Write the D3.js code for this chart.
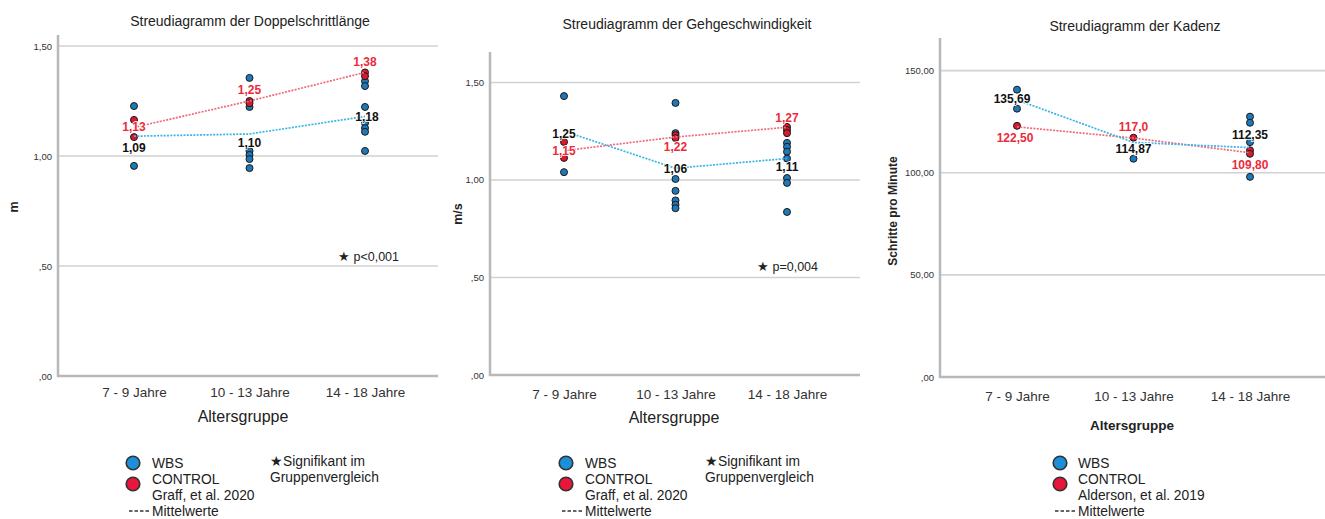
<!DOCTYPE html>
<html><head><meta charset="utf-8">
<script src="https://cdn.jsdelivr.net/npm/d3@7"></script>
<style>
body{margin:0;background:#fff;}
text{font-family:"Liberation Sans",Arial,sans-serif;}
</style></head>
<body><svg id="c" width="1325" height="519"></svg>
<script>
// ---------- DATA ----------
const categories = ["7 - 9 Jahre", "10 - 13 Jahre", "14 - 18 Jahre"];

// Panel 1: Doppelschrittlänge (m)
const strideWBS  = [[1.227, 0.955], [1.355, 1.223, 1.023, 1.005, 0.986, 0.945], [1.34, 1.318, 1.223, 1.15, 1.127, 1.11, 1.023]];
const strideCTRL = [[1.164, 1.086], [1.25, 1.24], [1.38, 1.363]];
const strideMeanWBS  = [1.09, 1.10, 1.18];
const strideMeanCTRL = [1.13, 1.25, 1.38];
const strideTicks = [0, 0.5, 1.0, 1.5];
const strideTickLabels = [",00", ",50", "1,00", "1,50"];
const strideMeanLabelsWBS  = ["1,09", "1,10", "1,18"];
const strideMeanLabelsCTRL = ["1,13", "1,25", "1,38"];

// Panel 2: Gehgeschwindigkeit (m/s)
const speedWBS  = [[1.43, 1.04], [1.395, 1.24, 1.005, 0.944, 0.895, 0.873, 0.855], [1.19, 1.17, 1.145, 1.11, 1.01, 0.985, 0.836]];
const speedCTRL = [[1.195, 1.113], [1.23, 1.215], [1.272, 1.256, 1.24]];
const speedMeanWBS  = [1.25, 1.06, 1.11];
const speedMeanCTRL = [1.15, 1.22, 1.27];
const speedTicks = [0, 0.5, 1.0, 1.5];
const speedTickLabels = [",00", ",50", "1,00", "1,50"];
const speedMeanLabelsWBS  = ["1,25", "1,06", "1,11"];
const speedMeanLabelsCTRL = ["1,15", "1,22", "1,27"];

// Panel 3: Kadenz (Schritte pro Minute)
const cadenceWBS  = [[140.7, 131.4], [106.9], [127.5, 124.5, 115.0, 98.0]];
const cadenceCTRL = [[123.0], [117.2], [111.0, 109.3]];
const cadenceMeanWBS  = [135.69, 114.87, 112.35];
const cadenceMeanCTRL = [122.50, 117.0, 109.80];
const cadenceTicks = [0, 50, 100, 150];
const cadenceTickLabels = [",00", "50,00", "100,00", "150,00"];
const cadenceMeanLabelsWBS  = ["135,69", "114,87", "112,35"];
const cadenceMeanLabelsCTRL = ["122,50", "117,0", "109,80"];

const titles = ["Streudiagramm der Doppelschrittlänge", "Streudiagramm der Gehgeschwindigkeit", "Streudiagramm der Kadenz"];
const yTitles = ["m", "m/s", "Schritte pro Minute"];
const xTitle = "Altersgruppe";
const sigNotes = ["★ p<0,001", "★ p=0,004", null];
const legendSources = ["Graff, et al. 2020", "Graff, et al. 2020", "Alderson, et al. 2019"];

// ---------- LAYOUT / STYLE ----------
const COL_BLUE = "#1f78b8", COL_RED = "#d8192e";
const LEG_BLUE = "#1b8fd8", LEG_RED = "#e8163a";
const LINE_BLUE = "#38b4ea", LINE_RED = "#f06a78";
const LBL_RED = "#ec2b3b";

const panels = [
  {wbs: strideWBS, ctrl: strideCTRL, mW: strideMeanWBS, mC: strideMeanCTRL, ticks: strideTicks, tickL: strideTickLabels,
   lW: strideMeanLabelsWBS, lC: strideMeanLabelsCTRL, ymax: 1.55,
   x0: 58, x1: 438, cx: [134, 365], yTop: 35, yBot: 376,
   dyW: [12, 9, 1], dyC: [0, -11, -10], dxW: [0, 0, 2], dxC: [0, 0, 0],
   title: [250, 21], yT: [14, 207], xT: [243, 416, false], sig: [338, 257], xtY: 392,
   leg: {cx: 133, tx: 152, sx: 270}},
  {wbs: speedWBS, ctrl: speedCTRL, mW: speedMeanWBS, mC: speedMeanCTRL, ticks: speedTicks, tickL: speedTickLabels,
   lW: speedMeanLabelsWBS, lC: speedMeanLabelsCTRL, ymax: 1.656,
   x0: 490, x1: 860, cx: [564, 787], yTop: 52, yBot: 375,
   dyW: [3, 1, 9], dyC: [0, 10, -9], dxW: [0, 0, 0], dxC: [0, 0, 0],
   title: [687, 24], yT: [458, 214], xT: [674, 417, false], sig: [757, 267], xtY: 394,
   leg: {cx: 566, tx: 585, sx: 705}},
  {wbs: cadenceWBS, ctrl: cadenceCTRL, mW: cadenceMeanWBS, mC: cadenceMeanCTRL, ticks: cadenceTicks, tickL: cadenceTickLabels,
   lW: cadenceMeanLabelsWBS, lC: cadenceMeanLabelsCTRL, ymax: 166,
   x0: 940, x1: 1325, cx: [1017, 1250], yTop: 38, yBot: 377,
   dyW: [-1, 7, -13], dyC: [11, -11, 12], dxW: [-5, 0, 0], dxC: [-2, 0, 0],
   title: [1135, 26], yT: [893, 211], xT: [1132, 425, true], sig: null, xtY: 396,
   leg: {cx: 1060, tx: 1078, sx: null}}
];

const svg = d3.select("#c");

panels.forEach((p, i) => {
  const g = svg.append("g");
  const x = d3.scalePoint().domain(categories).range(p.cx);
  const y = d3.scaleLinear().domain([0, p.ymax]).range([p.yBot, p.yTop]);

  // gridlines
  g.selectAll(".grid").data(p.ticks.slice(1)).join("line")
    .attr("x1", p.x0).attr("x2", p.x1)
    .attr("y1", d => y(d)).attr("y2", d => y(d))
    .attr("stroke", "#d2d2d2").attr("stroke-width", 1.6);

  // y axis (no tick marks)
  const yAxis = d3.axisLeft(y).tickValues(p.ticks).tickSize(0).tickPadding(6)
    .tickFormat((d, k) => p.tickL[k]);
  const ya = g.append("g").attr("transform", `translate(${p.x0},0)`).call(yAxis);
  ya.select(".domain").remove();
  ya.selectAll("text").attr("font-size", 9.5).attr("fill", "#333");
  g.append("line").attr("x1", p.x0).attr("x2", p.x0).attr("y1", p.yTop).attr("y2", p.yBot + 1)
    .attr("stroke", "#b8b8b8").attr("stroke-width", 2.5);

  // x axis
  const xAxis = d3.axisBottom(x).tickSize(0).tickPadding(0);
  const xa = g.append("g").attr("transform", `translate(0,${p.xtY})`).call(xAxis);
  xa.select(".domain").remove();
  xa.selectAll("text").attr("font-size", 13.5).attr("fill", "#333").attr("dy", "0.35em");
  g.append("line").attr("x1", p.x0 - 1).attr("x2", p.x1).attr("y1", p.yBot).attr("y2", p.yBot)
    .attr("stroke", "#b8b8b8").attr("stroke-width", 2.5);

  // title
  g.append("text").attr("x", p.title[0]).attr("y", p.title[1]).attr("text-anchor", "middle")
    .attr("dominant-baseline", "central").attr("font-size", 14).attr("fill", "#222").text(titles[i]);

  // y title
  g.append("text").attr("transform", `translate(${p.yT[0]},${p.yT[1]}) rotate(-90)`)
    .attr("text-anchor", "middle").attr("dominant-baseline", "central")
    .attr("font-size", i === 2 ? 12 : 12.5).attr("font-weight", "bold").attr("fill", "#222").text(yTitles[i]);

  // x title
  g.append("text").attr("x", p.xT[0]).attr("y", p.xT[1]).attr("text-anchor", "middle")
    .attr("dominant-baseline", "central").attr("font-size", p.xT[2] ? 13.5 : 16)
    .attr("font-weight", p.xT[2] ? "bold" : "normal").attr("fill", "#222").text(xTitle);

  // points
  const flat = (arr) => arr.flatMap((vals, k) => vals.map(v => ({c: categories[k], v})));
  g.selectAll(".pw").data(flat(p.wbs)).join("circle")
    .attr("cx", d => x(d.c)).attr("cy", d => y(d.v)).attr("r", 3.5)
    .attr("fill", COL_BLUE).attr("stroke", "#1a1a1a").attr("stroke-width", 1);
  g.selectAll(".pc").data(flat(p.ctrl)).join("circle")
    .attr("cx", d => x(d.c)).attr("cy", d => y(d.v)).attr("r", 3.5)
    .attr("fill", COL_RED).attr("stroke", "#1a1a1a").attr("stroke-width", 1);

  // mean lines
  const line = d3.line().x((d, k) => x(categories[k])).y(d => y(d));
  g.append("path").attr("d", line(p.mC)).attr("fill", "none").attr("stroke", LINE_RED)
    .attr("stroke-width", 1.7).attr("stroke-dasharray", "2,1.3");
  g.append("path").attr("d", line(p.mW)).attr("fill", "none").attr("stroke", LINE_BLUE)
    .attr("stroke-width", 1.7).attr("stroke-dasharray", "2,1.3");

  // mean labels
  const lab = (vals, labels, dy, dx, col) => {
    g.selectAll(null).data(vals).join("text")
      .attr("x", (d, k) => x(categories[k]) + dx[k]).attr("y", (d, k) => y(d) + dy[k])
      .attr("text-anchor", "middle").attr("dominant-baseline", "central")
      .attr("font-size", 12).attr("font-weight", "bold").attr("fill", col)
      .attr("stroke", "#fff").attr("stroke-width", 1.5).attr("paint-order", "stroke")
      .text((d, k) => labels[k]);
  };
  lab(p.mC, p.lC, p.dyC, p.dxC, LBL_RED);
  lab(p.mW, p.lW, p.dyW, p.dxW, "#111");

  // significance note
  if (sigNotes[i]) {
    g.append("text").attr("x", p.sig[0]).attr("y", p.sig[1]).attr("dominant-baseline", "central")
      .attr("font-size", 12.5).attr("fill", "#222").text(sigNotes[i]);
  }

  // legend
  const L = p.leg;
  g.append("circle").attr("cx", L.cx).attr("cy", 463).attr("r", 6.8).attr("fill", LEG_BLUE)
    .attr("stroke", "#333").attr("stroke-width", 1.6);
  g.append("circle").attr("cx", L.cx).attr("cy", 484).attr("r", 6.8).attr("fill", LEG_RED)
    .attr("stroke", "#333").attr("stroke-width", 1.6);
  const lt = (txt, yy, xx) => g.append("text").attr("x", xx).attr("y", yy).attr("dominant-baseline", "central")
    .attr("font-size", 13.8).attr("fill", "#222").text(txt);
  lt("WBS", 463, L.tx);
  lt("CONTROL", 479, L.tx);
  lt(legendSources[i], 495, L.tx);
  lt("Mittelwerte", 511, L.tx);
  g.append("line").attr("x1", L.tx - 23).attr("x2", L.tx - 3).attr("y1", 511).attr("y2", 511)
    .attr("stroke", "#333").attr("stroke-width", 1.3).attr("stroke-dasharray", "3.5,2");
  if (L.sx) {
    lt("★Signifikant im", 461, L.sx);
    lt("Gruppenvergleich", 477, L.sx);
  }
});
</script></body></html>
